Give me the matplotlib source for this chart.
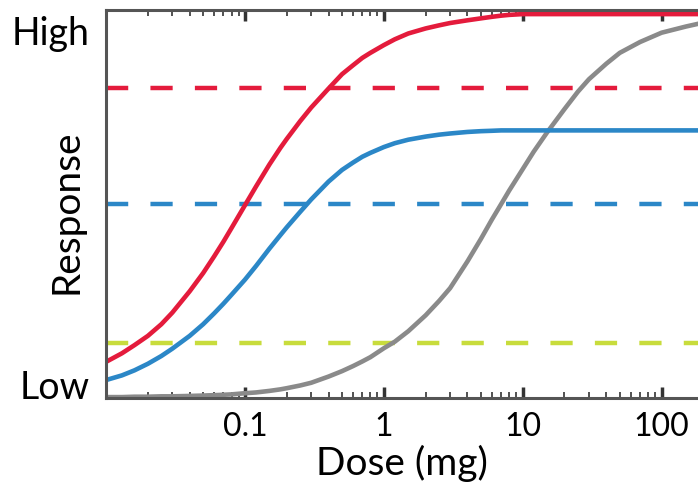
import matplotlib
matplotlib.use("Agg")
import matplotlib.pyplot as plt
from matplotlib.ticker import LogLocator, NullFormatter, FixedLocator

dose = [0.01, 0.013, 0.016, 0.02, 0.025, 0.03, 0.04, 0.05, 0.06, 0.07, 0.08,
        0.1, 0.12, 0.15, 0.18, 0.2, 0.25, 0.3, 0.4, 0.5, 0.6, 0.7, 0.8,
        1, 1.2, 1.5, 2, 2.5, 3, 4, 5, 6, 7, 8,
        10, 12, 15, 20, 25, 30, 40, 50, 70, 100, 150, 200]
red = [0.093, 0.115, 0.136, 0.16, 0.19, 0.22, 0.275, 0.322, 0.365, 0.403, 0.438,
       0.497, 0.545, 0.602, 0.645, 0.668, 0.714, 0.749, 0.798, 0.835, 0.858, 0.877, 0.89,
       0.91, 0.925, 0.94, 0.953, 0.961, 0.967, 0.974, 0.979, 0.983, 0.986, 0.988,
       0.99, 0.99, 0.99, 0.99, 0.99, 0.99, 0.99, 0.99, 0.99, 0.99, 0.99, 0.99]
blue = [0.046, 0.058, 0.071, 0.088, 0.108, 0.127, 0.16, 0.19, 0.218, 0.243, 0.266,
        0.305, 0.34, 0.385, 0.42, 0.44, 0.48, 0.512, 0.558, 0.588, 0.607, 0.622, 0.632,
        0.647, 0.657, 0.666, 0.674, 0.679, 0.682, 0.686, 0.688, 0.689, 0.69, 0.69,
        0.69, 0.69, 0.69, 0.69, 0.69, 0.69, 0.69, 0.69, 0.69, 0.69, 0.69, 0.69]
gray = [0.002, 0.002, 0.003, 0.003, 0.004, 0.004, 0.005, 0.006, 0.007, 0.008, 0.009,
        0.012, 0.014, 0.018, 0.022, 0.025, 0.032, 0.039, 0.055, 0.069, 0.082, 0.094, 0.105,
        0.128, 0.145, 0.172, 0.213, 0.25, 0.283, 0.352, 0.41, 0.46, 0.50, 0.535,
        0.59, 0.635, 0.685, 0.745, 0.79, 0.822, 0.862, 0.89, 0.918, 0.942, 0.958, 0.968]

# horizontal dashed thresholds
red_level = 0.80
blue_level = 0.50
green_level = 0.142

xticks = [0.1, 1, 10, 100]
xticklabels = ["0.1", "1", "10", "100"]
yticks = [0.034, 0.948]
yticklabels = ["Low", "High"]

RED = "#E41B3C"
BLUE = "#2B87C7"
GRAY = "#8A8A8A"
GREEN = "#C8DC3C"

plt.rcParams['font.family'] = ['Lato', 'DejaVu Sans']

fig = plt.figure(figsize=(6.98, 4.87), dpi=100)
ax = fig.add_axes([0.152, 0.183, 0.848, 0.796])

dash = (5, 5)
ax.axhline(red_level, color=RED, lw=3.2, dashes=dash)
ax.axhline(blue_level, color=BLUE, lw=3.2, dashes=dash)
ax.axhline(green_level, color=GREEN, lw=3.2, dashes=dash)

ax.plot(dose, gray, color=GRAY, lw=3.3, solid_capstyle="round")
ax.plot(dose, blue, color=BLUE, lw=3.3, solid_capstyle="round")
ax.plot(dose, red, color=RED, lw=3.3, solid_capstyle="round")

ax.set_xscale("log")
ax.set_xlim(0.01, 183)
ax.set_ylim(0, 1)

ax.xaxis.set_major_locator(FixedLocator(xticks))
ax.set_xticklabels(xticklabels)
ax.xaxis.set_minor_locator(LogLocator(base=10, subs=range(2, 10), numticks=20))
ax.xaxis.set_minor_formatter(NullFormatter())
ax.tick_params(axis="x", which="major", direction="in", length=8, width=2.5,
               top=True, labelsize=23, pad=10, color="#333333")
ax.tick_params(axis="x", which="minor", direction="in", length=4, width=1.2,
               top=True, color="#333333")

ax.set_yticks(yticks)
ax.set_yticklabels(yticklabels)
ax.tick_params(axis="y", which="both", length=0, labelsize=27, pad=12)

for side in ["left", "bottom", "top"]:
    ax.spines[side].set_linewidth(2.2)
    ax.spines[side].set_color("#555555")
ax.spines["right"].set_visible(False)

ax.set_xlabel("Dose (mg)", fontsize=28)
ax.set_ylabel("Response", fontsize=28)
ax.xaxis.set_label_coords(0.5, -0.12)
ax.yaxis.set_label_coords(-0.037, 0.48)

fig.savefig("out.png", dpi=100)
